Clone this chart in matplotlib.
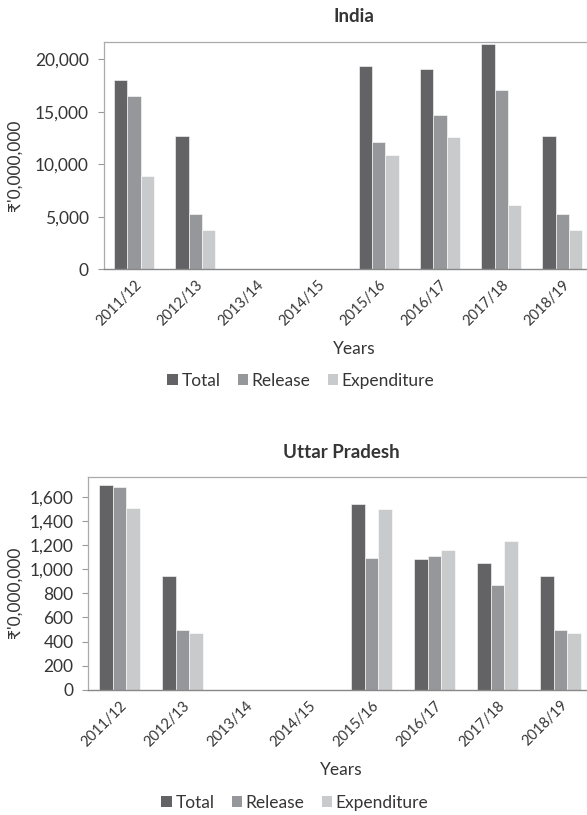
import matplotlib
matplotlib.use("Agg")
import matplotlib.pyplot as plt
import numpy as np
from matplotlib.ticker import FuncFormatter, MultipleLocator
from matplotlib.patches import Patch

plt.rcParams["font.family"] = ["Lato", "DejaVu Sans"]

years = ["2011/12", "2012/13", "2013/14", "2014/15",
         "2015/16", "2016/17", "2017/18", "2018/19"]
series_names = ["Total", "Release", "Expenditure"]
colors = ["#636366", "#96979a", "#c9cacc"]

india_total = [18000, 12700, 0, 0, 19300, 19100, 21400, 12700]
india_release = [16500, 5300, 0, 0, 12100, 14700, 17100, 5300]
india_expenditure = [8900, 3700, 0, 0, 10900, 12600, 6100, 3700]

up_total = [1700, 940, 0, 0, 1535, 1080, 1050, 940]
up_release = [1680, 495, 0, 0, 1095, 1110, 870, 495]
up_expenditure = [1510, 470, 0, 0, 1500, 1155, 1235, 470]

W, H = 587, 815
TXT = "#353535"
fig = plt.figure(figsize=(W / 100, H / 100), dpi=100)


def px_axes(left, top, right, bottom):
    return fig.add_axes([left / W, 1 - bottom / H, (right - left) / W, (bottom - top) / H])


def draw_panel(ax, data, ymax, step, title, title_y, years_x, years_y,
               legend_x, legend_y, ylabel_x):
    x = np.arange(len(years))
    bw = 0.217
    for i, (vals, c) in enumerate(zip(data, colors)):
        ax.bar(x + (i - 1) * bw, vals, width=bw, color=c,
               edgecolor="white", linewidth=0.4)
    ax.set_xlim(-0.5, len(years) - 0.5)
    ax.set_ylim(0, ymax)
    ax.yaxis.set_major_locator(MultipleLocator(step))
    ax.yaxis.set_major_formatter(FuncFormatter(lambda v, p: f"{int(v):,}"))
    ax.set_xticks(x)
    ax.set_xticklabels(years, rotation=45, ha="right", va="top",
                       rotation_mode="anchor", fontsize=10.5, color=TXT)
    ax.tick_params(axis="x", length=0, pad=6)
    ax.tick_params(axis="y", length=4, width=0.8, color="#999999",
                   labelsize=12.5, labelcolor=TXT, pad=6.5)
    for s in ["top", "left", "right"]:
        ax.spines[s].set_color("#aaaaaa")
        ax.spines[s].set_linewidth(0.9)
    ax.spines["bottom"].set_color("#888888")
    ax.spines["bottom"].set_linewidth(1.0)
    ax.set_ylabel("₹'0,000,000", fontsize=12.5, color=TXT)
    ax.yaxis.label.set_va("center")
    ax.yaxis.set_label_coords(ylabel_x, 0.46)

    fig.text(years_x / W, 1 - title_y / H, title, ha="center", va="center",
             fontsize=13.5, fontweight="bold", color=TXT)
    fig.text(years_x / W, 1 - years_y / H, "Years", ha="center", va="center",
             fontsize=12.5, color=TXT)
    handles = [Patch(facecolor=c, edgecolor="none") for c in colors]
    fig.legend(handles, series_names, loc="center", ncol=3,
               bbox_to_anchor=(legend_x / W, 1 - legend_y / H), frameon=False,
               fontsize=12.5, handlelength=0.6, handleheight=0.6,
               handletextpad=0.2, columnspacing=1.0, labelcolor=TXT,
               borderaxespad=0, borderpad=0)


ax1 = px_axes(103.5, 42.3, 593, 269.3)
draw_panel(ax1, [india_total, india_release, india_expenditure],
           21600, 5000, "India", 17, 354, 349, 301, 381,
           (15 - 103.5) / 489.5)

ax2 = px_axes(88, 477.3, 592, 690)
draw_panel(ax2, [up_total, up_release, up_expenditure],
           1760, 200, "Uttar Pradesh", 453, 341, 770, 295, 803,
           (15 - 88) / 504)

fig.savefig("out.png", dpi=100)
